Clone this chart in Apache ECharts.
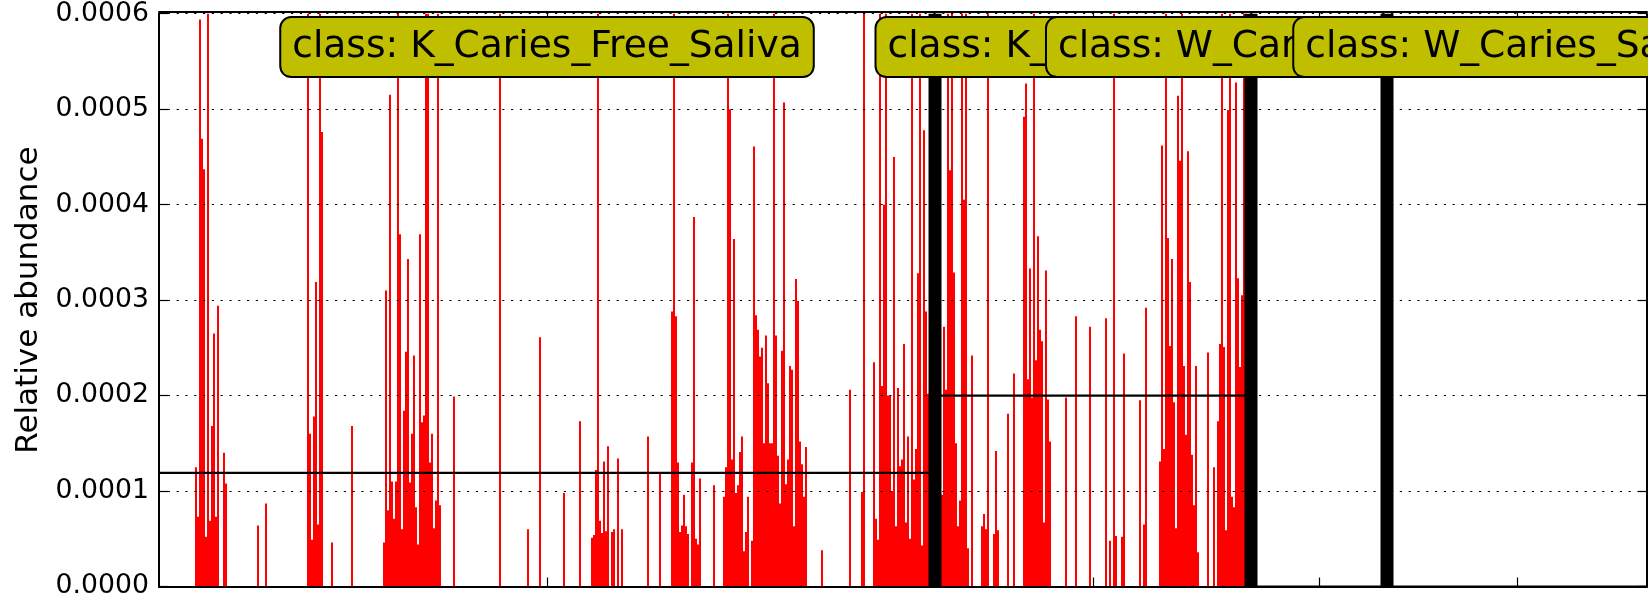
<!DOCTYPE html>
<html>
<head>
<meta charset="utf-8">
<script src="https://cdn.jsdelivr.net/npm/echarts@6/dist/echarts.min.js"></script>
<style>
html,body{margin:0;padding:0;background:#fff;}
#chart{width:1648px;height:600px;}
</style>
</head>
<body>
<div id="chart"></div>
<script>
// ---- DATA ----
const classNames = ['K_Caries_Free_Saliva', 'K_Caries_Saliva', 'W_Caries_Free_Saliva', 'W_Caries_Saliva'];

// relative abundance per sample, class K_Caries_Free_Saliva (bars taller than 0.0006 are clipped)
const kCariesFreeSaliva = [
0,0,0,0,0,0,0,0,0,0,
0,0,0,0,0,0,0,0,1.25e-4,0.73e-4,
5.94e-4,4.69e-4,4.37e-4,0.52e-4,7e-4,0.69e-4,1.68e-4,2.65e-4,0.73e-4,2.94e-4,
0,0,1.4e-4,1.08e-4,0,0,0,0,0,0,
0,0,0,0,0,0,0,0,0,0.64e-4,
0,0,0,0.87e-4,0,0,0,0,0,0,
0,0,0,0,0,0,0,0,0,0,
0,0,0,0,7e-4,1.6e-4,0.49e-4,1.78e-4,3.19e-4,0.65e-4,
7e-4,4.76e-4,0,0,0,0,0.46e-4,0,0,0,
0,0,0,0,0,0,1.68e-4,0,0,0,
0,0,0,0,0,0,0,0,0,0,
0,0,0.46e-4,3.1e-4,0.8e-4,5.15e-4,1.1e-4,0.71e-4,1.1e-4,7e-4,
3.69e-4,0.6e-4,1.84e-4,2.46e-4,3.43e-4,1.09e-4,1.6e-4,2.42e-4,0.83e-4,0.44e-4,
3.69e-4,1.72e-4,1.79e-4,7e-4,7e-4,1.3e-4,1.6e-4,0.61e-4,0.9e-4,7e-4,
0.85e-4,0,0,0,0,0,0,1.99e-4,0,0,
0,0,0,0,0,0,0,0,0,0,
0,0,0,0,0,0,0,0,0,0,
7e-4,0,0,0,0,0,0,0,0,0,
0,0,0,0,0.6e-4,0,0,0,0,0,
2.61e-4,0,0,0,0,0,0,0,0,0,
0,0,0.98e-4,0,0,0,0,0,0,0,
1.73e-4,0,0,0,0,0,0.51e-4,0.54e-4,1.22e-4,7e-4,
0.69e-4,0.56e-4,1.31e-4,0.58e-4,1.47e-4,0,0.57e-4,0.6e-4,0,1.34e-4,
0,0.6e-4,0,0,0,0,0,0,0,0,
0,0,0,0,1.57e-4,0,0,0,0,0,
1.18e-4,0,0,0,0,0,2.88e-4,7e-4,2.83e-4,1.3e-4,
0.57e-4,0.64e-4,0.96e-4,0.63e-4,0.55e-4,0,1.3e-4,3.87e-4,0.5e-4,0.44e-4,
1.13e-4,0,0,0,0,0,0,1.06e-4,0,0,
0,0,0.94e-4,1.25e-4,7e-4,5.0e-4,1.33e-4,3.64e-4,0.98e-4,1.06e-4,
1.41e-4,1.57e-4,0.37e-4,0.57e-4,0.94e-4,0,0.48e-4,4.61e-4,2.84e-4,2.69e-4,
2.41e-4,2.5e-4,1.5e-4,2.63e-4,2.13e-4,1.5e-4,1.5e-4,7e-4,2.63e-4,1.37e-4,
0.87e-4,2.47e-4,5.07e-4,1.07e-4,1.33e-4,2.31e-4,2.27e-4,0.63e-4,3.22e-4,2.99e-4,
1.52e-4,1.28e-4,0.94e-4,1.46e-4,0,0,0,0,0,0,
0,0.38e-4,0,0,0,0,0,0,0,0,
0,0,0,0,0,2.06e-4,0,0,0,0,
0,0.99e-4,7e-4,0,0,0,0,2.35e-4,0.71e-4,0.49e-4,
7e-4,2.1e-4,4.0e-4,7e-4,2.0e-4,2.0e-4,1.0e-4,4.5e-4,0.63e-4,2.08e-4,
1.26e-4,1.33e-4,2.54e-4,0.67e-4,1.57e-4,0.5e-4,7e-4,1.12e-4,1.44e-4,3.28e-4,
7e-4,0.43e-4,4.78e-4,2.88e-4,2.02e-4,0,0,0
];

// class K_Caries_Saliva
const kCariesSaliva = [
0,0,0,0.96e-4,2.72e-4,2.06e-4,7e-4,4.36e-4,7e-4,3.29e-4,
1.5e-4,0.63e-4,0.9e-4,7e-4,4.05e-4,7e-4,0.4e-4,0,2.42e-4,0,
0,0,0,0.63e-4,0.76e-4,0.6e-4,7e-4,0,0,0.55e-4,
1.42e-4,0.59e-4,0,0,0,0,1.81e-4,0,0,2.23e-4,
0,0,0,0,4.92e-4,5.27e-4,2.17e-4,3.33e-4,1.98e-4,7e-4,
2.37e-4,3.67e-4,2.69e-4,2.57e-4,0.67e-4,3.31e-4,1.96e-4,1.52e-4,0,0,
0,0,0,0,0,1.98e-4,0,0,0,0,
2.83e-4,0,0,0,0,0,0,2.72e-4,0,0,
0,0,0,0,0,2.81e-4,0,0.48e-4,0,7e-4,
0.53e-4,0,0,0.52e-4,2.44e-4,0,0,0,0,0,
0,0,1.95e-4,0,0.65e-4,2.92e-4,0,0,0,0,
0,0,1.31e-4,4.62e-4,1.44e-4,7e-4,3.65e-4,2.52e-4,3.43e-4,1.93e-4,
0.61e-4,5.14e-4,4.46e-4,7e-4,2.31e-4,1.59e-4,4.56e-4,3.19e-4,1.38e-4,0.85e-4,
2.31e-4,0.36e-4,0,0,0,0,2.45e-4,0,0,1.25e-4,
0,1.73e-4,2.54e-4,7e-4,2.51e-4,0.59e-4,4.99e-4,7e-4,0.94e-4,0.83e-4,
5.28e-4,3.23e-4,2.3e-4,3.05e-4,7e-4,0,0,0
];

// class W_Caries_Free_Saliva (all samples zero)
const wCariesFreeSaliva = [
0,0,0,0,0,0,0,0,0,0,0,0,0,0,0,0,0,0,0,0,
0,0,0,0,0,0,0,0,0,0,0,0,0,0,0,0,0,0,0,0,
0,0,0,0,0,0,0,0,0,0,0,0,0,0,0,0,0,0,0,0,
0,0,0,0,0,0,0,0
];

// class W_Caries_Saliva (all samples zero)
const wCariesSaliva = [
0,0,0,0,0,0,0,0,0,0,0,0,0,0,0,0,0,0,0,0,
0,0,0,0,0,0,0,0,0,0,0,0,0,0,0,0,0,0,0,0,
0,0,0,0,0,0,0,0,0,0,0,0,0,0,0,0,0,0,0,0,
0,0,0,0,0,0,0,0,0,0,0,0,0,0,0,0,0,0,0,0,
0,0,0,0,0,0,0,0,0,0,0,0,0,0,0,0,0,0,0,0,
0,0,0,0,0,0,0,0,0,0,0,0,0,0,0,0,0,0,0,0,
0,0,0,0,0,0,0,0,0,0
];

// class mean lines
const classMeans = [1.19e-4, 2.0e-4, 0, 0];

// y ticks
const yMin = 0, yMax = 0.0006, yStep = 0.0001;

// ---- BUILD ----
const groups = [kCariesFreeSaliva, kCariesSaliva, wCariesFreeSaliva, wCariesSaliva];
const allValues = [].concat(...groups);
const total = allValues.length;
const starts = [];
let acc = 0;
groups.forEach(g => { starts.push(acc); acc += g.length; });
const ends = groups.map((g, k) => starts[k] + g.length);
const centers = groups.map((g, k) => starts[k] + g.length / 2);
const boundaries = ends.slice(0, ends.length - 1);

const FONT = 'DejaVu Sans';
const LABEL_Y = 0.000565;

const series = [];
series.push({
  type: 'bar', xAxisIndex: 0, yAxisIndex: 0, data: allValues,
  barCategoryGap: '0%', barGap: '0%', clip: true, z: 2, silent: true,
  itemStyle: { color: '#ff0000' }
});
classMeans.forEach((m, k) => {
  series.push({
    type: 'line', xAxisIndex: 1, yAxisIndex: 0, z: 3, silent: true,
    symbol: 'none', data: [[starts[k], m], [ends[k], m]],
    lineStyle: { color: '#000', width: 2.2 }
  });
});
boundaries.forEach(b => {
  series.push({
    type: 'line', xAxisIndex: 1, yAxisIndex: 0, z: 4, silent: true,
    symbol: 'none', data: [[b, yMin], [b, yMax]],
    lineStyle: { color: '#000', width: 13, cap: 'butt' }
  });
});
classNames.forEach((name, k) => {
  series.push({
    type: 'scatter', xAxisIndex: 1, yAxisIndex: 0, z: 20 + k, silent: true,
    symbolSize: 0,
    itemStyle: { opacity: 1 },
    data: [[centers[k], LABEL_Y]],
    label: {
      show: true, position: 'inside', opacity: 1,
      formatter: 'class: ' + name,
      fontFamily: FONT, fontSize: 37.6, color: '#000',
      backgroundColor: '#bfbf00', borderColor: '#000', borderWidth: 2,
      borderRadius: 10, padding: [8, 11, 8, 11], lineHeight: 42
    }
  });
});

const tickStyle = { show: true, inside: true, length: 9, lineStyle: { color: '#000', width: 1.2 } };
const lineStyleAxis = { show: true, onZero: false, lineStyle: { color: '#000', width: 2 } };

const option = {
  animation: false,
  backgroundColor: '#ffffff',
  grid: { left: 159, right: 1, top: 13.7, bottom: 12.5, containLabel: false },
  xAxis: [
    { type: 'category', show: false, boundaryGap: true },
    { type: 'value', min: 0, max: total, position: 'bottom', z: 5,
      axisLine: lineStyleAxis,
      axisTick: Object.assign({ customValues: centers }, tickStyle),
      axisLabel: { show: false }, splitLine: { show: false } },
    { type: 'value', min: 0, max: total, position: 'top', offset: 2, z: 5,
      axisLine: lineStyleAxis,
      axisTick: Object.assign({ customValues: centers }, tickStyle),
      axisLabel: { show: false }, splitLine: { show: false } }
  ],
  yAxis: [
    { type: 'value', min: yMin, max: yMax, interval: yStep, position: 'left', z: 5,
      axisLine: lineStyleAxis, axisTick: tickStyle,
      axisLabel: { show: true, margin: 10, color: '#000', fontFamily: FONT, fontSize: 26.7,
                   formatter: v => v.toFixed(4) },
      splitLine: { show: true, lineStyle: { color: '#000', width: 1.2, type: [2.2, 6.6] } },
      name: 'Relative abundance', nameLocation: 'middle', nameGap: 115,
      nameTextStyle: { color: '#000', fontFamily: FONT, fontSize: 31 } },
    { type: 'value', min: yMin, max: yMax, interval: yStep, position: 'right', z: 5,
      axisLine: lineStyleAxis, axisTick: tickStyle,
      axisLabel: { show: false }, splitLine: { show: false } }
  ],
  series: series
};

const chart = echarts.init(document.getElementById('chart'), null, { renderer: 'canvas' });
chart.setOption(option);
</script>
</body>
</html>
